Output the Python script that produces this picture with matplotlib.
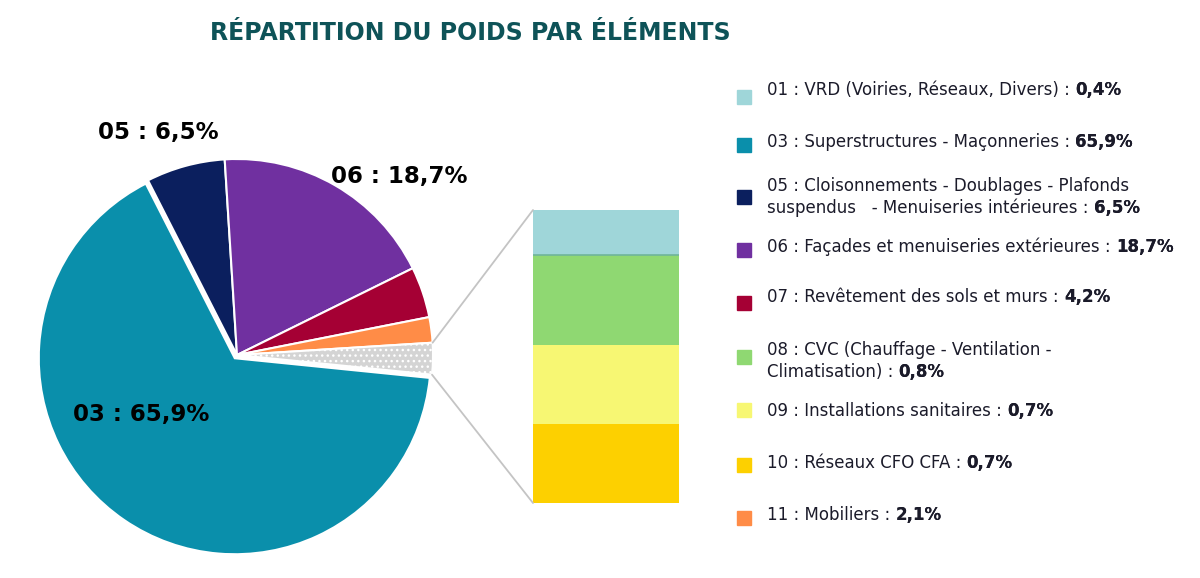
import matplotlib.pyplot as plt
from matplotlib.patches import ConnectionPatch, Rectangle
import numpy as np

W, H = 1200, 578

# Pie data (clockwise from the top-left)
pie_codes = ['05', '06', '07', '11', 'autres', '03']
pie_values = [6.5, 18.7, 4.2, 2.1, 2.6, 65.9]
pie_colors = ['#0b1f5e', '#7030a0', '#a50034', '#ff8c47', '#d4d4d4', '#0a8fab']

# Detail bar data (bottom to top)
bar_codes = ['10', '09', '08', '01']
bar_values = [0.7, 0.7, 0.8, 0.4]
bar_colors = ['#fdd000', '#f7f773', '#8fd872', '#9fd6d9']

# Legend entries
leg_colors = ['#9fd6d9', '#0a8fab', '#0b1f5e', '#7030a0', '#a50034',
              '#8fd872', '#f7f773', '#fdd000', '#ff8c47']
leg_lines = [
    ['01 : VRD (Voiries, Réseaux, Divers) : '],
    ['03 : Superstructures - Maçonneries : '],
    ['05 : Cloisonnements - Doublages - Plafonds', 'suspendus   - Menuiseries intérieures : '],
    ['06 : Façades et menuiseries extérieures : '],
    ['07 : Revêtement des sols et murs : '],
    ['08 : CVC (Chauffage - Ventilation -', 'Climatisation) : '],
    ['09 : Installations sanitaires : '],
    ['10 : Réseaux CFO CFA : '],
    ['11 : Mobiliers : '],
]
leg_values = ['0,4%', '65,9%', '6,5%', '18,7%', '4,2%', '0,8%', '0,7%', '0,7%', '2,1%']
leg_text_y = [90, 142, 186, 247, 297, 350, 411, 463, 515]
leg_box_y = [97, 145, 197, 250, 303, 357, 410, 465, 518]

pie_labels = ['05 : 6,5%', '06 : 18,7%', '03 : 65,9%']
pie_label_pos = [(158, 133), (399, 177), (141, 415)]

text_font = ['DejaVu Sans']
text_color = '#1b1b2a'


def fx(x):
    return x / W


def fy(y):
    return 1 - y / H


fig = plt.figure(figsize=(W / 100, H / 100), dpi=100)

# pie axes
cx, cy, R = 237, 355, 196
pad = 1.1
ax = fig.add_axes([fx(cx - R * pad), fy(cy + R * pad), 2 * R * pad / W, 2 * R * pad / H])
wedges, _ = ax.pie(pie_values, colors=pie_colors, startangle=117, counterclock=False,
                   explode=[0, 0, 0, 0, 0, 0.02],
                   wedgeprops=dict(edgecolor='white', linewidth=1.5))
wedges[4].set_hatch('...')
ax.set_xlim(-pad, pad)
ax.set_ylim(-pad, pad)
ax.set_aspect('auto')
ax.axis('off')

# detail bar axes
bx0, bx1, by0, by1 = 533, 679, 210, 503
bax = fig.add_axes([fx(bx0), fy(by1), (bx1 - bx0) / W, (by1 - by0) / H])
bottom = 0
for v, c in zip(bar_values, bar_colors):
    bax.bar(0, v, width=1, bottom=bottom, color=c, edgecolor='none')
    bottom += v
bax.axhline(sum(bar_values[:3]), color='#6fb59a', lw=1.2)
bax.set_xlim(-0.5, 0.5)
bax.set_ylim(0, sum(bar_values))
bax.axis('off')

# connector lines from grey slice to the bar
w = wedges[4]
for ang, yb in [(w.theta2, sum(bar_values)), (w.theta1, 0)]:
    xa, ya = np.cos(np.radians(ang)), np.sin(np.radians(ang))
    con = ConnectionPatch(xyA=(xa, ya), coordsA=ax.transData,
                          xyB=(-0.5, yb), coordsB=bax.transData,
                          color='#c4c4c4', lw=1.3)
    fig.add_artist(con)

# title
fig.text(fx(470), fy(33), 'RÉPARTITION DU POIDS PAR ÉLÉMENTS', ha='center', va='center',
         fontsize=17, fontweight='bold', color='#0e5358', family=['DejaVu Sans'])

# pie labels
for lab, (x, y) in zip(pie_labels, pie_label_pos):
    fig.text(fx(x), fy(y), lab, ha='center', va='center', fontsize=16.5,
             fontweight='bold', color='black', family=text_font)

# legend
for col, lines, val, ty, by in zip(leg_colors, leg_lines, leg_values, leg_text_y, leg_box_y):
    fig.add_artist(Rectangle((fx(737), fy(by + 7)), 14 / W, 14 / H, color=col,
                             transform=fig.transFigure))
    last = None
    for i, ln in enumerate(lines):
        last = fig.text(fx(767), fy(ty + 22 * i), ln, ha='left', va='center',
                        fontsize=12, color=text_color, family=text_font)
    ann = plt.annotate(val, xy=(1, 0.5), xycoords=last, ha='left', va='center',
                       fontsize=12, fontweight='bold', color=text_color, family=text_font)
    fig.add_artist(ann)

fig.savefig('out.png', dpi=100)
